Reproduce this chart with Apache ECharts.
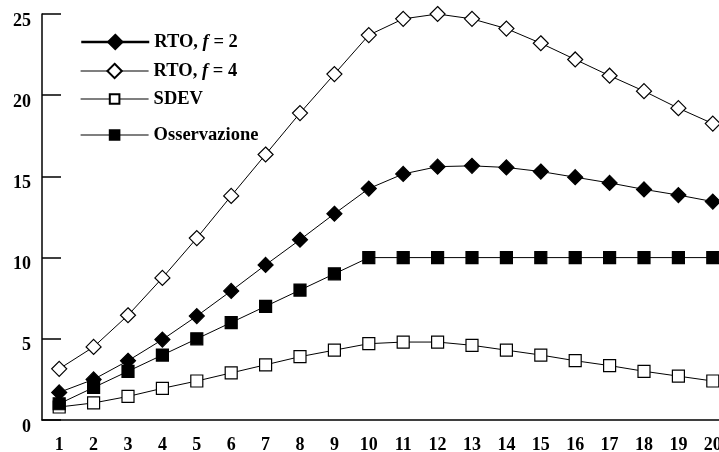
<!DOCTYPE html>
<html>
<head>
<meta charset="utf-8">
<script src="https://cdn.jsdelivr.net/npm/echarts@6/dist/echarts.min.js"></script>
<style>
  html, body { margin: 0; padding: 0; background: #fff; }
  #chart { width: 719px; height: 452px; }
</style>
</head>
<body>
<div id="chart"></div>
<script>
'use strict';

const categories = ['1', '2', '3', '4', '5', '6', '7', '8', '9', '10',
    '11', '12', '13', '14', '15', '16', '17', '18', '19', '20'];
const rtoF2 = [1.7, 2.5, 3.65, 4.95, 6.4, 7.95, 9.55, 11.1, 12.7, 14.25,
    15.15, 15.6, 15.65, 15.55, 15.3, 14.95, 14.6, 14.2, 13.85, 13.45];
const rtoF4 = [3.15, 4.5, 6.45, 8.75, 11.2, 13.8, 16.35, 18.9, 21.3, 23.7,
    24.7, 25.0, 24.7, 24.1, 23.2, 22.2, 21.2, 20.25, 19.2, 18.25];
const sdev = [0.8, 1.05, 1.45, 1.95, 2.4, 2.9, 3.4, 3.9, 4.3, 4.7,
    4.8, 4.8, 4.6, 4.3, 4.0, 3.65, 3.35, 3.0, 2.7, 2.4];
const osservazione = [1, 2, 3, 4, 5, 6, 7, 8, 9, 10,
    10, 10, 10, 10, 10, 10, 10, 10, 10, 10];
const yTicks = { min: 0, max: 25, step: 5 };

const FONT = '"Liberation Serif", "Times New Roman", serif';
const names = ['RTO, f = 2', 'RTO, f = 4', 'SDEV', 'Osservazione'];
// legend row centres and icon heights (diamonds larger than squares)
const legendRows = [42, 71, 99, 135];
const legendIconH = [18, 18, 12, 12];

const chart = echarts.init(document.getElementById('chart'));

function makeSeries(name, data, symbol, size, filled) {
    return {
        name,
        type: 'line',
        data,
        symbol,
        symbolSize: size,
        showAllSymbol: true,
        lineStyle: { color: '#000', width: 1 },
        itemStyle: { color: filled ? '#000' : '#fff', borderColor: '#000', borderWidth: 1.2 },
        emphasis: { disabled: true },
        z: 3,
    };
}

function legendLabel(name) {
    const m = name.match(/^RTO, f = (\d)$/);
    if (m) return '{b|RTO, }{i|f}{b| = ' + m[1] + '}';
    return '{b|' + name + '}';
}

const legends = names.map((name, i) => ({
    data: [name],
    orient: 'vertical',
    left: 80,
    top: legendRows[i] - 10,
    padding: 0,
    itemWidth: 68,
    itemHeight: legendIconH[i],
    itemGap: 0,
    itemTextGap: 16,
    selectedMode: false,
    lineStyle: { width: i === 0 ? 2.5 : 1.2 },
    formatter: legendLabel,
    textStyle: {
        lineHeight: 20,
        rich: {
            b: { fontFamily: FONT, fontWeight: 'bold', fontSize: 18.5, color: '#000', lineHeight: 20 },
            i: { fontFamily: FONT, fontWeight: 'bold', fontStyle: 'italic', fontSize: 18.5, color: '#000', lineHeight: 20 },
        },
    },
}));

chart.setOption({
    animation: false,
    backgroundColor: '#fff',
    grid: {
        left: 42, top: 14, width: 688, bottom: 32,
        containLabel: false,
        outerBoundsMode: 'none',
    },
    legend: legends,
    xAxis: {
        type: 'category',
        data: categories,
        boundaryGap: true,
        axisLine: { lineStyle: { color: '#000', width: 1.5 } },
        axisTick: { inside: true, length: 10, lineStyle: { color: '#000', width: 1.5 } },
        axisLabel: {
            margin: 16,
            interval: 0,
            fontFamily: FONT,
            fontWeight: 'bold',
            fontSize: 18,
            color: '#000',
        },
        splitLine: { show: false },
    },
    yAxis: {
        type: 'value',
        min: yTicks.min,
        max: yTicks.max,
        interval: yTicks.step,
        axisLine: { show: true, lineStyle: { color: '#000', width: 1.5 } },
        axisTick: { show: true, inside: true, length: 19, lineStyle: { color: '#000', width: 1.5 } },
        axisLabel: {
            margin: 11,
            verticalAlign: 'top',
            lineHeight: 14,
            fontFamily: FONT,
            fontWeight: 'bold',
            fontSize: 18,
            color: '#000',
        },
        splitLine: { show: false },
    },
    series: [
        makeSeries(names[0], rtoF2, 'diamond', 15, true),
        makeSeries(names[1], rtoF4, 'diamond', 15, false),
        makeSeries(names[2], sdev, 'rect', 12, false),
        makeSeries(names[3], osservazione, 'rect', 12, true),
    ],
});
</script>
</body>
</html>
